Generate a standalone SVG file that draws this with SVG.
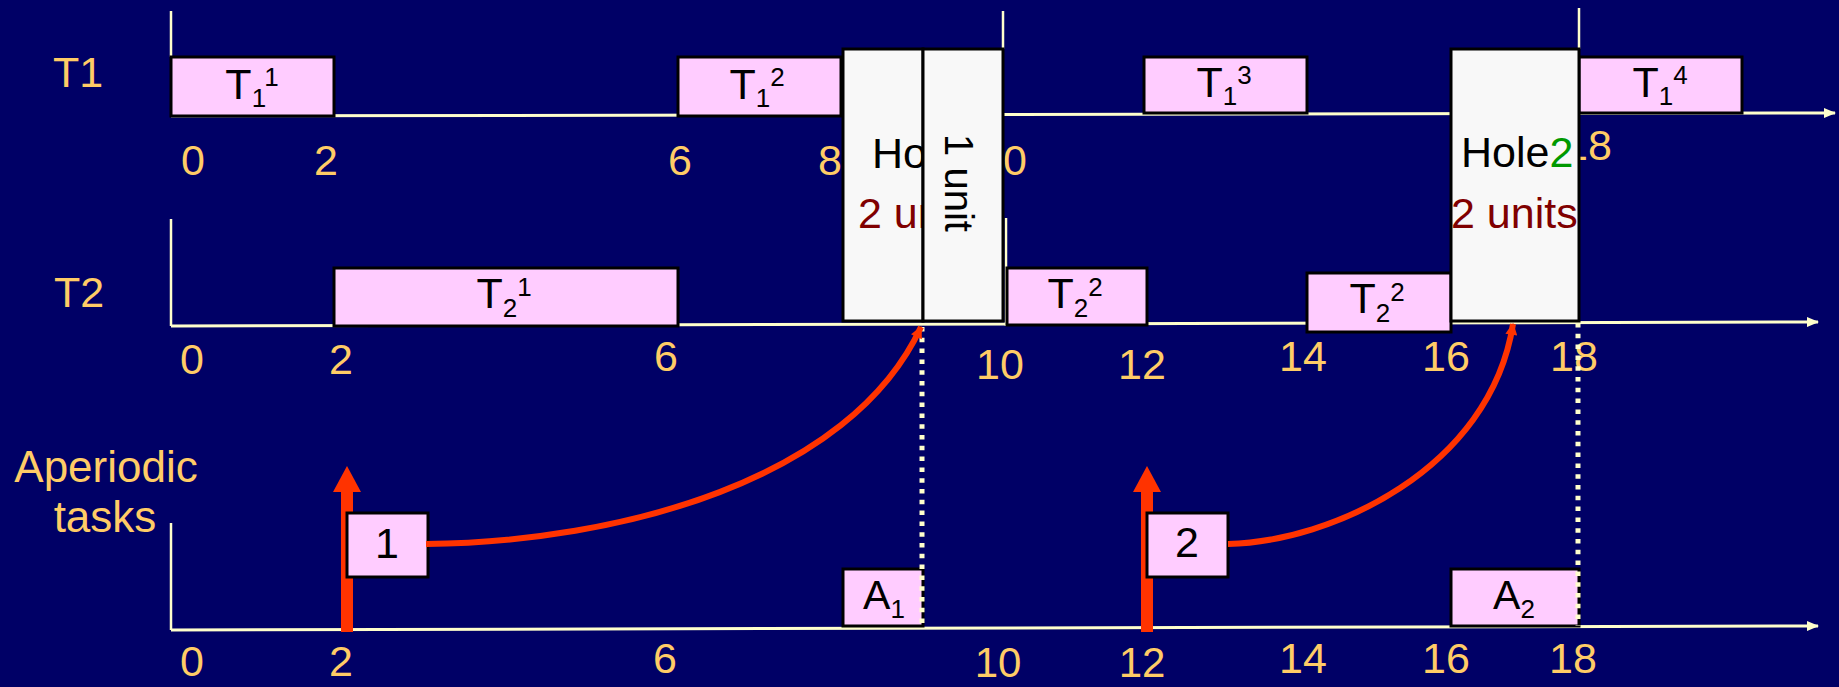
<svg xmlns="http://www.w3.org/2000/svg" width="1839" height="687" viewBox="0 0 1839 687">
<defs>
<marker id="axArrow" viewBox="0 0 12 10" refX="11" refY="5" markerWidth="12" markerHeight="10" markerUnits="userSpaceOnUse" orient="auto">
<path d="M0,0 L12,5 L0,10 z" fill="#FFFFCC"/>
</marker>
<marker id="redArrow" viewBox="0 0 10 10" refX="9" refY="5" markerWidth="13" markerHeight="12" markerUnits="userSpaceOnUse" orient="auto">
<path d="M0,0 L10,5 L0,10 z" fill="#FF3300"/>
</marker>
</defs>
<style>
text{font-family:"Liberation Sans",Arial,sans-serif}
.num{font-size:43px;fill:#FFCC66;text-anchor:middle}
.lbl{font-size:43px;fill:#FFCC66;text-anchor:middle}
.task{fill:#FFCCFF;stroke:#000;stroke-width:3}
.hole{fill:#F8F8F8;stroke:#000;stroke-width:3}
.axis{stroke:#FFFFCC;stroke-width:3;fill:none}
.vax{stroke:#FFFFCC;stroke-width:2.5;fill:none}
.dot{stroke:#FFFFCC;stroke-width:5;stroke-dasharray:4.5 6.3;fill:none}
.tt{font-size:43px;fill:#000;text-anchor:middle}
.s{font-size:26px}
.ht{font-size:43px;fill:#000}
.hr{font-size:43px;fill:#800000}
.curve{stroke:#FF3300;stroke-width:6;fill:none}
.red{fill:#FF3300}
</style>
<rect x="0" y="0" width="1839" height="687" fill="#000066"/>

<g id="labels">
<text class="lbl" x="78" y="87">T1</text>
<text class="lbl" x="79" y="307">T2</text>
<text class="lbl" x="106" y="482" style="font-size:44px">Aperiodic</text>
<text class="lbl" x="105" y="532" style="font-size:44px">tasks</text>
</g>

<g id="numbers">
<text class="num" x="193" y="175">0</text>
<text class="num" x="326" y="175">2</text>
<text class="num" x="680" y="175">6</text>
<text class="num" x="830" y="175">8</text>
<text class="num" x="1003" y="175">10</text>
<text class="num" x="1588" y="160">18</text>

<text class="num" x="192" y="374">0</text>
<text class="num" x="341" y="374">2</text>
<text class="num" x="666" y="371">6</text>
<text class="num" x="1000" y="379">10</text>
<text class="num" x="1142" y="379">12</text>
<text class="num" x="1303" y="371">14</text>
<text class="num" x="1446" y="371">16</text>
<text class="num" x="1574" y="371">18</text>

<text class="num" x="192" y="676">0</text>
<text class="num" x="341" y="676">2</text>
<text class="num" x="665" y="673">6</text>
<text class="num" x="998" y="677" style="font-size:42px">10</text>
<text class="num" x="1142" y="677" style="font-size:42px">12</text>
<text class="num" x="1303" y="673">14</text>
<text class="num" x="1446" y="673">16</text>
<text class="num" x="1573" y="673">18</text>
</g>

<g id="axes">
<line class="axis" x1="171" y1="116" x2="1835" y2="113" marker-end="url(#axArrow)"/>
<line class="vax" x1="171" y1="11" x2="171" y2="57"/>
<line class="vax" x1="1003" y1="11" x2="1003" y2="49"/>
<line class="vax" x1="1579" y1="8" x2="1579" y2="49"/>
<line class="axis" x1="171" y1="326" x2="1818" y2="322" marker-end="url(#axArrow)"/>
<line class="vax" x1="171" y1="219" x2="171" y2="326"/>
<line class="vax" x1="1006" y1="218" x2="1006" y2="326"/>
<line class="axis" x1="171" y1="630" x2="1818" y2="626" marker-end="url(#axArrow)"/>
<line class="vax" x1="171" y1="523" x2="171" y2="630"/>
</g>

<g id="T1_1"><rect class="task" x="171" y="57" width="163" height="59"/>
<text class="tt" x="252" y="99">T<tspan class="s" dy="8">1</tspan><tspan class="s" dy="-21">1</tspan></text></g>
<g id="T1_2"><rect class="task" x="678" y="57" width="163" height="59"/>
<text class="tt" x="757" y="99">T<tspan class="s" dy="8">1</tspan><tspan class="s" dy="-21">2</tspan></text></g>
<g id="T1_3"><rect class="task" x="1144" y="57" width="163" height="56"/>
<text class="tt" x="1224" y="97">T<tspan class="s" dy="8">1</tspan><tspan class="s" dy="-21">3</tspan></text></g>
<g id="T1_4"><rect class="task" x="1579" y="57" width="163" height="56"/>
<text class="tt" x="1660" y="97">T<tspan class="s" dy="8">1</tspan><tspan class="s" dy="-21">4</tspan></text></g>

<g id="T2_1"><rect class="task" x="334" y="268" width="344" height="58"/>
<text class="tt" x="504" y="308">T<tspan class="s" dy="9">2</tspan><tspan class="s" dy="-21">1</tspan></text></g>
<g id="T2_2a"><rect class="task" x="1007" y="268" width="140" height="57"/>
<text class="tt" x="1075" y="308">T<tspan class="s" dy="9">2</tspan><tspan class="s" dy="-21">2</tspan></text></g>
<g id="T2_2b"><rect class="task" x="1307" y="273" width="144" height="59"/>
<text class="tt" x="1377" y="313">T<tspan class="s" dy="9">2</tspan><tspan class="s" dy="-21">2</tspan></text></g>

<g id="hole1"><rect class="hole" x="843" y="49" width="80" height="272"/>
<text class="ht" x="872" y="168">Hole</text>
<text class="hr" x="858" y="228">2 units</text></g>
<g id="unit1"><rect class="hole" x="923" y="49" width="80" height="272"/>
<text class="tt" transform="translate(945,183) rotate(90)" x="0" y="0" style="font-size:40px">1 unit</text></g>

<g id="hole2"><rect class="hole" x="1451" y="49" width="128" height="272"/>
<text class="ht" x="1461" y="167">Hole<tspan fill="#009900">2</tspan></text>
<text class="hr" x="1451" y="228">2 units</text></g>

<g id="arrival1">
<rect class="red" x="341" y="490" width="12" height="142"/>
<polygon class="red" points="333,492 347,466 361,492"/>
</g>
<g id="arrival2">
<rect class="red" x="1141" y="490" width="12" height="142"/>
<polygon class="red" points="1133,492 1147,466 1161,492"/>
</g>

<g id="ap1"><rect class="task" x="347" y="513" width="81" height="64"/>
<text class="tt" x="387" y="558">1</text></g>
<g id="ap2"><rect class="task" x="1147" y="513" width="81" height="64"/>
<text class="tt" x="1187" y="557">2</text></g>

<g id="A1"><rect class="task" x="843" y="569" width="80" height="57"/>
<text class="tt" x="884" y="609" style="font-size:41px">A<tspan class="s" dy="9">1</tspan></text></g>
<g id="A2"><rect class="task" x="1451" y="569" width="128" height="57"/>
<text class="tt" x="1514" y="609" style="font-size:41px">A<tspan class="s" dy="9">2</tspan></text></g>

<g id="deadlines">
<line class="dot" x1="922" y1="327" x2="922" y2="626"/>
<line class="dot" x1="1578" y1="323" x2="1578" y2="626"/>
</g>

<g id="connectors">
<path class="curve" d="M426,544 C620,542 850,480 921,327" marker-end="url(#redArrow)"/>
<path class="curve" d="M1228,544 C1330,542 1490,470 1513,324" marker-end="url(#redArrow)"/>
</g>
</svg>
